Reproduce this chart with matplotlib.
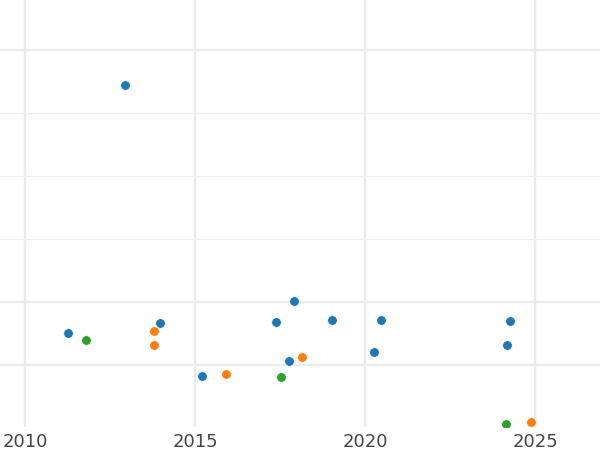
import numpy as np
import matplotlib.pyplot as plt

# Scatter values (x = year, y = arbitrary units)
blue_x = [2011.26, 2012.94, 2013.96, 2015.21, 2017.37, 2017.91, 2017.76,
          2019.04, 2020.26, 2020.48, 2024.26, 2024.18]
blue_y = [1.51, 5.44, 1.66, 0.83, 1.69, 2.02, 1.07, 1.72, 1.21, 1.71, 1.70, 1.32]

orange_x = [2013.78, 2013.78, 2015.91, 2018.14, 2024.88]
orange_y = [1.54, 1.32, 0.86, 1.13, 0.09]

green_x = [2011.80, 2017.53, 2024.15]
green_y = [1.39, 0.81, 0.06]

year_ticks = [2010, 2015, 2020, 2025]
major_y = [1, 2, 6]
minor_y = [3, 4, 5]

fig = plt.figure(figsize=(6, 4.5), dpi=100)
ax = fig.add_axes([0, 0.051, 1, 0.949])

for xs, ys, c in [(blue_x, blue_y, '#1f77b4'),
                  (orange_x, orange_y, '#ff7f0e'),
                  (green_x, green_y, '#2ca02c')]:
    ax.scatter(xs, ys, s=48, color=c, edgecolor='white', linewidth=0.5, zorder=3)

ax.set_xlim(2009.265, 2026.91)
ax.set_ylim(1 / 63, 428 / 63)

ax.set_xticks(year_ticks)
ax.set_yticks(major_y)
ax.set_yticks(minor_y, minor=True)
ax.set_yticklabels([])

ax.grid(True, which='major', color='#ebebeb', linewidth=1.6)
ax.grid(True, which='minor', axis='y', color='#f0f0f0', linewidth=0.9)
ax.set_axisbelow(True)

ax.tick_params(axis='both', which='both', length=0)
ax.tick_params(axis='x', labelsize=13, labelcolor='#444444', pad=4)
for s in ax.spines.values():
    s.set_visible(False)

fig.savefig('out.png', dpi=100)
